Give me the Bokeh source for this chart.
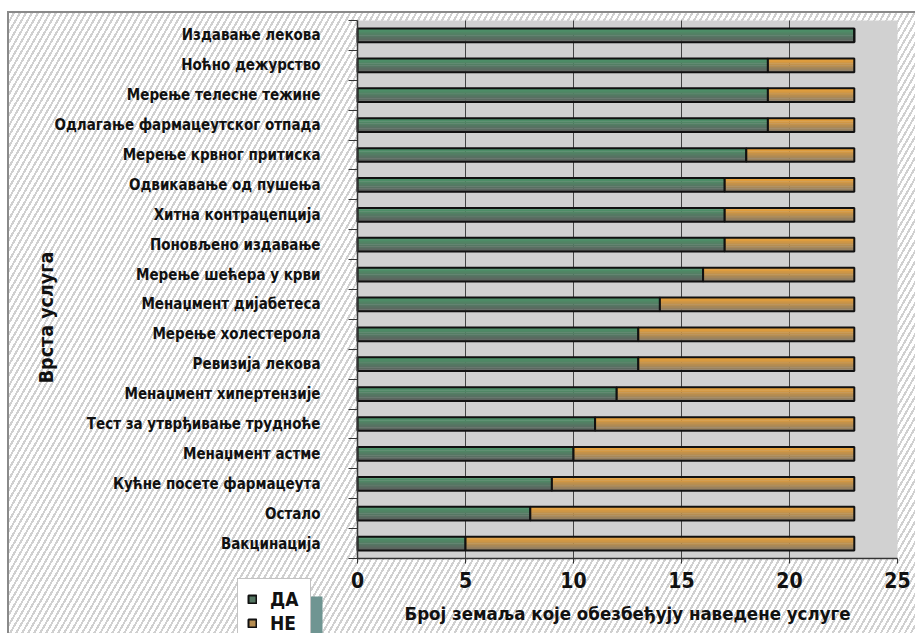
import math
from bokeh.plotting import figure
from bokeh.models import (Range1d, FixedTicker, Legend, LegendItem, ColumnDataSource,
                          BoxAnnotation, Label)
from bokeh.transform import dodge
from bokeh.embed import file_html
from bokeh.resources import INLINE

categories = [
    "Издавање лекова", "Ноћно дежурство", "Мерење телесне тежине",
    "Одлагање фармацеутског отпада", "Мерење крвног притиска",
    "Одвикавање од пушења", "Хитна контрацепција", "Поновљено издавање",
    "Мерење шећера у крви", "Менаџмент дијабетеса", "Мерење холестерола",
    "Ревизија лекова", "Менаџмент хипертензије", "Тест за утврђивање трудноће",
    "Менаџмент астме", "Кућне посете фармацеута", "Остало", "Вакцинација",
]
da_values = [23, 19, 19, 19, 18, 17, 17, 17, 16, 14, 13, 13, 12, 11, 10, 9, 8, 5]
total_countries = 23
x_ticks = [0, 5, 10, 15, 20, 25]
series_names = ["ДА", "НЕ"]
y_title = "Врста услуга"
x_title = "Број земаља које обезбеђују наведене услуге"

FONT = "DejaVu Sans Condensed"
TXT = "#111111"

n = len(categories)
ypos = [n - 1 - i + 0.5 for i in range(n)]
totals = [total_countries] * n
src = ColumnDataSource(dict(y=ypos, da=da_values, total=totals, cat=categories))

# ---- layout geometry (pixels of the 915x633 canvas) ----
W, H = 915, 633
PX_L, PX_R, PX_T, PX_B = 357, 897, 20, 558
x_max = x_ticks[-1]
sx = (PX_R - PX_L) / x_max
sy = (PX_B - PX_T) / n
x_range = Range1d(-PX_L / sx, x_max + (W - PX_R) / sx)
y_range = Range1d(-(H - PX_B) / sy, n + PX_T / sy)

def px_x(px):
    return (px - PX_L) / sx

def px_y(px):
    return (PX_B - px) / sy

p = figure(width=W, height=H, output_backend="svg", toolbar_location=None,
           x_range=x_range, y_range=y_range, min_border=0,
           min_border_left=0, min_border_right=0, min_border_top=0, min_border_bottom=0)
p.styles = {
    "background": (
        "linear-gradient(#8a8a8a,#8a8a8a) 7px 11px / 2px 100% no-repeat, "
        "linear-gradient(#8a8a8a,#8a8a8a) 7px 11px / 100% 2px no-repeat, "
        "repeating-linear-gradient(120deg, #ffffff 0px, #ffffff 3.2px, #d0d0d0 3.2px, #d0d0d0 5.2px) 9px 13px / 100% 100% no-repeat, "
        "#ffffff"
    )
}
p.border_fill_alpha = 0
p.background_fill_alpha = 0
p.outline_line_color = None
p.grid.visible = False

# gray plotting area
p.add_layout(BoxAnnotation(left=0, right=x_max, bottom=0, top=n,
                           fill_color="#d1d1d1", fill_alpha=1, line_color=None,
                           level="underlay"))
# vertical grid lines
grid_x = x_ticks[1:-1]
p.segment(x0=grid_x, y0=0, x1=grid_x, y1=n, line_color="#444444", line_width=1)

# ---- bars with vertical shading ----
BAR_H = 0.46
K = 8

def mix(c1, c2, t):
    a = [int(c1[i:i + 2], 16) for i in (1, 3, 5)]
    b = [int(c2[i:i + 2], 16) for i in (1, 3, 5)]
    return "#%02x%02x%02x" % tuple(round(a[j] + (b[j] - a[j]) * t) for j in range(3))

def shaded_bar(left, right, top_col, bot_col):
    mid = None
    for k in range(K):
        t = k / (K - 1)
        off = BAR_H / 2 - (k + 0.5) * BAR_H / K
        r = p.hbar(y=dodge("y", off), left=left, right=right, height=BAR_H / K * 1.2,
                   source=src, fill_color=mix(top_col, bot_col, t), line_color=None)
        if k == K // 2:
            mid = r
    outline = p.hbar(y="y", left=left, right=right, height=BAR_H, source=src,
                     fill_color=None, line_color="#111111", line_width=2)
    return mid, outline

g_mid, g_out = shaded_bar(0, "da", "#4a9468", "#5e625f")
o_mid, o_out = shaded_bar("da", "total", "#eda236", "#8c7d66")

# ---- axes placed at data positions ----
xa = p.xaxis[0]
xa.fixed_location = 0
xa.bounds = (0, x_max)
xa.ticker = FixedTicker(ticks=x_ticks)
xa.axis_line_color = "#333333"
xa.axis_line_width = 1.5
xa.major_tick_line_color = "#333333"
xa.major_tick_out = 5
xa.major_tick_in = 0
xa.minor_tick_line_color = None
xa.major_label_text_font = FONT
xa.major_label_text_font_style = "bold"
xa.major_label_text_font_size = "21px"
xa.major_label_text_color = TXT
xa.major_label_standoff = 8

ya = p.yaxis[0]
ya.fixed_location = 0
ya.bounds = (0, n)
ya.ticker = FixedTicker(ticks=ypos, minor_ticks=list(range(n + 1)))
ya.major_label_overrides = {y: c for y, c in zip(ypos, categories)}
ya.axis_line_color = "#333333"
ya.axis_line_width = 1.5
ya.major_tick_line_color = None
ya.major_tick_out = 0
ya.major_tick_in = 0
ya.minor_tick_line_color = "#333333"
ya.minor_tick_out = 9
ya.minor_tick_in = 0
ya.major_label_text_font = FONT
ya.major_label_text_font_style = "bold"
ya.major_label_text_font_size = "15px"
ya.major_label_text_color = TXT
ya.major_label_standoff = 28

# axis titles
p.add_layout(Label(x=x_max / 2, y=H - 613, x_units="data", y_units="screen",
                   text=x_title, text_align="center", text_baseline="middle",
                   text_font=FONT, text_font_style="bold", text_font_size="18.5px",
                   text_color=TXT))
p.add_layout(Label(x=46, y=H - 317, x_units="screen", y_units="screen",
                   text=y_title, angle=math.pi / 2, text_align="center",
                   text_baseline="middle", text_font=FONT, text_font_style="bold",
                   text_font_size="19.5px", text_color=TXT))

# ---- legend with its shadow ----
p.add_layout(BoxAnnotation(left=px_x(250), right=px_x(322), top=px_y(596),
                           bottom=px_y(H + 40), fill_color="#6f9592", fill_alpha=1,
                           line_color=None))

legend = Legend(items=[LegendItem(label=series_names[0], renderers=[g_mid, g_out]),
                       LegendItem(label=series_names[1], renderers=[o_mid, o_out])],
                location=(237, -11), orientation="vertical", padding=9, spacing=2,
                glyph_width=10, glyph_height=10, label_width=31, label_height=20,
                label_standoff=13, margin=0, background_fill_color="#ffffff",
                background_fill_alpha=1, border_line_color="#888888",
                border_line_width=1.5)
legend.label_text_font = FONT
legend.label_text_font_style = "bold"
legend.label_text_font_size = "19px"
legend.label_text_color = TXT
p.add_layout(legend, "center")

open("out.html", "w").write(file_html(p, INLINE))
